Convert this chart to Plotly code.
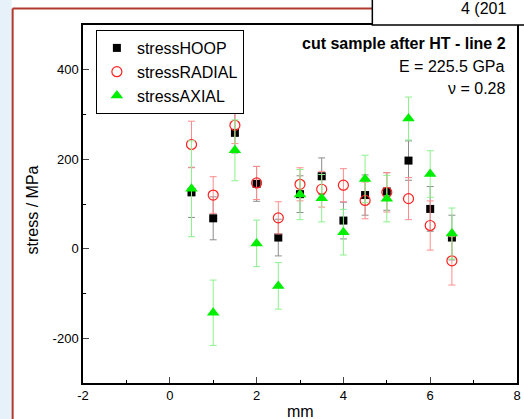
import plotly.graph_objects as go

# ---- data ----
x_mm = [0.5, 1, 1.5, 2, 2.5, 3, 3.5, 4, 4.5, 5, 5.5, 6, 6.5]
hoop = [126, 68, 259, 145, 25, 122, 162, 63, 120, 128, 197, 89, 25]
hoop_err = [56, 48, 45, 39, 41, 41, 41, 41, 45, 42, 44, 50, 50]
radial = [233, 120, 276, 147, 69, 144, 133, 142, 108, 126, 112, 52, -27]
radial_err = [52, 41, 41, 37, 36, 37, 40, 37, 41, 44, 47, 55, 54]
axial = [134, -143, 220, 12, -83, 121, 113, 37, 156, 112, 291, 167, 34]
axial_err = [107, 73, 68, 52, 52, 56, 53, 51, 53, 52, 48, 52, 57]

x_ticks = [-2, 0, 2, 4, 6, 8]
x_tick_labels = ["-2", "0", "2", "4", "6", "8"]
y_ticks = [-200, 0, 200, 400]
y_tick_labels = ["-200", "0", "200", "400"]

W, H = 524, 419
L, R, T, B = 83, 521, 25, 383
FONT = "Liberation Sans, Arial, sans-serif"


def px(xp):
    return (xp - L) / (R - L)


def py(yp):
    return (B - yp) / (B - T)


fig = go.Figure()

fig.add_trace(go.Scatter(
    x=x_mm, y=hoop, mode="markers", name="stressHOOP",
    marker=dict(symbol="square", size=8, color="black"),
    error_y=dict(type="data", array=hoop_err, color="#8c8c8c", thickness=1, width=3.5),
))
fig.add_trace(go.Scatter(
    x=x_mm, y=radial, mode="markers", name="stressRADIAL",
    marker=dict(symbol="circle-open", size=10, color="#ff2020", line=dict(width=1.2)),
    error_y=dict(type="data", array=radial_err, color="#ff8c8c", thickness=1, width=3.5),
))
fig.add_trace(go.Scatter(
    x=x_mm, y=axial, mode="markers", name="stressAXIAL",
    marker=dict(symbol="triangle-up", size=11, color="#00ee00"),
    error_y=dict(type="data", array=axial_err, color="#8cf28c", thickness=1, width=3.5),
))

shapes = [
    dict(type="rect", xref="paper", yref="paper", x0=px(-5), x1=px(11), y0=py(-5), y1=py(H + 5),
         fillcolor="#e6f1fa", line=dict(width=0), layer="below"),
    dict(type="line", xref="paper", yref="paper", x0=px(12), x1=px(12), y0=py(8.5), y1=py(H + 5),
         line=dict(color="#b03a2e", width=2)),
    dict(type="line", xref="paper", yref="paper", x0=px(12), x1=px(376), y0=py(8.5), y1=py(8.5),
         line=dict(color="#b03a2e", width=2)),
    dict(type="rect", xref="paper", yref="paper", x0=px(375), x1=px(W + 200), y0=py(25), y1=py(-10),
         fillcolor="white", line=dict(color="black", width=1.5)),
]

annotations = [
    dict(text="4 (201", xref="paper", yref="paper", x=px(462), y=py(8), xanchor="left", yanchor="middle",
         showarrow=False, font=dict(family=FONT, size=16, color="black")),
    dict(text="<b>cut sample after HT - line 2</b>", xref="paper", yref="paper", x=px(512), y=py(43),
         xanchor="right", yanchor="middle", showarrow=False, font=dict(family=FONT, size=16, color="black")),
    dict(text="E = 225.5 GPa", xref="paper", yref="paper", x=px(511), y=py(66),
         xanchor="right", yanchor="middle", showarrow=False, font=dict(family=FONT, size=16, color="black")),
    dict(text="\u03bd = 0.28", xref="paper", yref="paper", x=px(511), y=py(88),
         xanchor="right", yanchor="middle", showarrow=False, font=dict(family=FONT, size=16, color="black")),
    dict(text="stress / MPa", xref="paper", yref="paper", x=px(33), y=py(210), textangle=-90,
         xanchor="center", yanchor="middle", showarrow=False, font=dict(family=FONT, size=16, color="black")),
    dict(text="mm", xref="paper", yref="paper", x=px(302), y=py(411),
         xanchor="center", yanchor="middle", showarrow=False, font=dict(family=FONT, size=16, color="black")),
]

fig.update_layout(
    width=W, height=H,
    margin=dict(l=L, r=W - R, t=T, b=H - B),
    paper_bgcolor="white", plot_bgcolor="white",
    font=dict(family=FONT, size=13, color="black"),
    showlegend=True,
    legend=dict(x=px(96), y=py(30), xanchor="left", yanchor="top",
                bordercolor="black", borderwidth=1, bgcolor="white",
                font=dict(family=FONT, size=16, color="black"),
                itemwidth=30, tracegroupgap=0),
    shapes=shapes,
    annotations=annotations,
)

fig.update_xaxes(range=[-2, 8], tickmode="array", tickvals=x_ticks, ticktext=x_tick_labels,
                 ticks="inside", ticklen=6, tickwidth=1,
                 showline=True, linecolor="black", linewidth=1.5, mirror=True,
                 showgrid=False, zeroline=False,
                 minor=dict(tickmode="linear", tick0=-1, dtick=2, ticks="inside", ticklen=3,
                            tickwidth=1, tickcolor="black"),
                 tickfont=dict(family=FONT, size=13, color="black"))
fig.update_yaxes(range=[-300, 500], tickmode="array", tickvals=y_ticks, ticktext=y_tick_labels,
                 ticks="inside", ticklen=6, tickwidth=1,
                 showline=True, linecolor="black", linewidth=1.5, mirror=True,
                 showgrid=False, zeroline=False,
                 minor=dict(tickmode="linear", tick0=-100, dtick=200, ticks="inside", ticklen=3,
                            tickwidth=1, tickcolor="black"),
                 tickfont=dict(family=FONT, size=13, color="black"))

fig.write_html("out.html")
